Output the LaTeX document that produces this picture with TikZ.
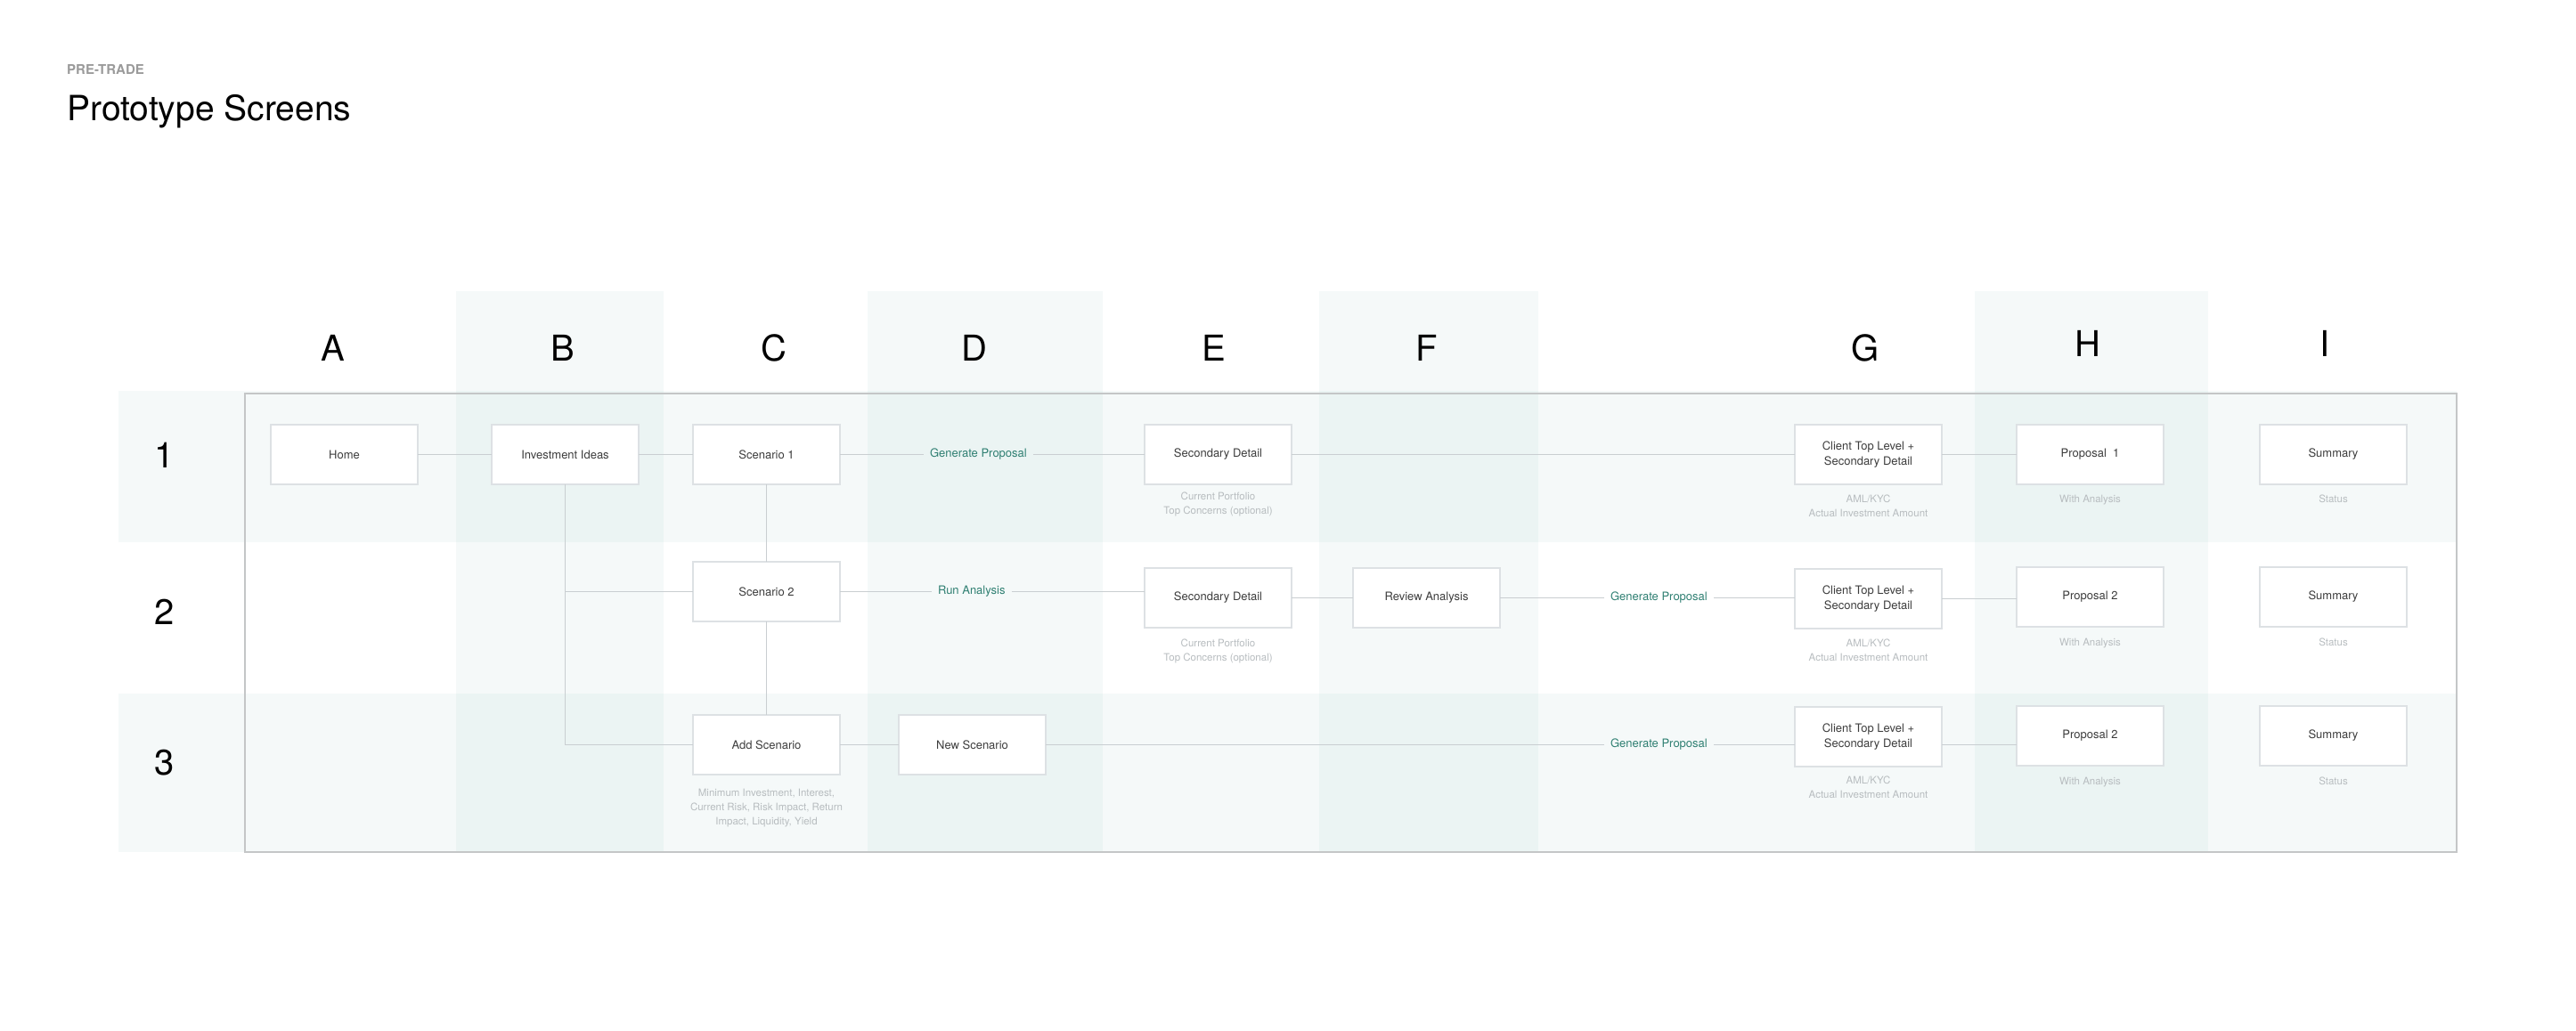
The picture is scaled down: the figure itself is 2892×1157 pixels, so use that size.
\documentclass[tikz,border=0pt]{standalone}
\usepackage{fontspec}
\setmainfont{TeX Gyre Heros}
\usepackage{tikz}
\usetikzlibrary{positioning}

\definecolor{tint}{RGB}{0,110,100}
\definecolor{boxedge}{HTML}{DDE1E4}
\definecolor{linkgray}{HTML}{C9CED1}
\definecolor{framegray}{HTML}{C4C6C7}
\definecolor{screentext}{HTML}{3D3D3D}
\definecolor{notegray}{HTML}{B7BCBF}
\definecolor{actionteal}{HTML}{2F7F72}
\definecolor{kickergray}{HTML}{9A9A9A}

\newcommand{\screenfont}{\fontsize{13}{17}\selectfont}
\newcommand{\notefont}{\fontsize{11.5}{16}\selectfont}
\newcommand{\headfont}{\fontsize{40}{48}\selectfont}
\newcommand{\kickerfont}{\fontsize{15}{18}\selectfont\bfseries}
\newcommand{\titlefont}{\fontsize{39}{46}\selectfont}

\tikzstyle{screen} = [rectangle, minimum width=165pt, minimum height=67pt, outer sep=0pt, text centered, align=center, draw=boxedge, line width=1.5pt, fill=white, text=screentext, font=\screenfont, path picture={\draw [boxedge, line width=3pt] (path picture bounding box.south west) -- (path picture bounding box.south east);}]
\tikzstyle{note} = [align=center, inner sep=0pt, text=notegray, font=\notefont]
\tikzstyle{action} = [inner xsep=7pt, inner ysep=2pt, outer sep=0pt, text=actionteal, font=\screenfont]
\tikzstyle{colhead} = [inner sep=0pt, text=black, font=\headfont]
\tikzstyle{band} = [fill=tint, fill opacity=0.04]
\tikzstyle{link} = [draw=linkgray, line width=1.5pt]
\tikzstyle{gridframe} = [draw=framegray, line width=2.2pt]

\begin{document}
\begin{tikzpicture}[x=1pt, y=-1pt]
\useasboundingbox (0,0) rectangle (2892,1157);

\fill [band] (133,439) rectangle (2758,609);
\fill [band] (133,779) rectangle (2758,957);
\foreach \xa/\xb in {512/745, 974/1238, 1481/1727, 2217/2479}
  \fill [band] (\xa,327) rectangle (\xb,957);
\draw [gridframe] (275,442) rectangle (2758,957);

\node (kicker) [anchor=base west, inner sep=0pt, text=kickergray, font=\kickerfont] at (75,83) {PRE-TRADE};
\node (title) [anchor=base west, inner sep=0pt, font=\titlefont] at (75,135) {Prototype Screens};

\foreach \x/\y/\l in {374/391/A, 632/391/B, 869/391/C, 1094/391/D, 1363/391/E, 1602/391/F, 2094/391/G, 2344/386/H, 2610/386/I}
  \node (col\l) [colhead] at (\x,\y) {\l};
\foreach \y/\r in {511/1, 687/2, 857/3}
  \node (row\r) [colhead] at (185,\y) {\r};

\node (home) [screen] at (386.5,510.5) {Home};
\node (ideas) [screen, right=83pt of home] {Investment Ideas};
\node (sc1) [screen, right=61pt of ideas] {Scenario 1};
\node (sd1) [screen, right=342pt of sc1] {Secondary Detail};
\node (client1) [screen, right=565pt of sd1] {Client Top Level +\\Secondary Detail};
\node (prop1) [screen, right=84pt of client1] {Proposal\ \ 1};
\node (sum1) [screen, right=108pt of prop1] {Summary};

\node (sc2) [screen, below=87pt of sc1] {Scenario 2};
\node (sd2) [screen, below=94pt of sd1] {Secondary Detail};
\node (review) [screen, right=69pt of sd2] {Review Analysis};
\node (client2) [screen, below=95pt of client1] {Client Top Level +\\Secondary Detail};
\node (prop2) [screen, below=93pt of prop1] {Proposal 2};
\node (sum2) [screen, below=93pt of sum1] {Summary};

\node (add) [screen, below=105pt of sc2] {Add Scenario};
\node (new) [screen, right=66pt of add] {New Scenario};
\node (client3) [screen, below=88pt of client2] {Client Top Level +\\Secondary Detail};
\node (prop3) [screen, below=89pt of prop2] {Proposal 2};
\node (sum3) [screen, below=89pt of sum2] {Summary};

\node (gp1) [action, right=94pt of sc1] {Generate Proposal};
\node (ra) [action, right=103pt of sc2] {Run Analysis};
\node (gp2) [action, right=117pt of review] {Generate Proposal};
\node (gp3) [action, right=627pt of new] {Generate Proposal};

\node (sd1note) [note, below=9pt of sd1] {Current Portfolio\\Top Concerns (optional)};
\node (sd2note) [note, below=13pt of sd2] {Current Portfolio\\Top Concerns (optional)};
\node (client1note) [note, below=12pt of client1] {AML/KYC\\Actual Investment Amount};
\node (client2note) [note, below=12pt of client2] {AML/KYC\\Actual Investment Amount};
\node (client3note) [note, below=11pt of client3] {AML/KYC\\Actual Investment Amount};
\node (prop1note) [note, below=12pt of prop1] {With Analysis};
\node (prop2note) [note, below=13pt of prop2] {With Analysis};
\node (prop3note) [note, below=13pt of prop3] {With Analysis};
\node (sum1note) [note, below=12pt of sum1] {Status};
\node (sum2note) [note, below=13pt of sum2] {Status};
\node (sum3note) [note, below=13pt of sum3] {Status};
\node (addnote) [note, below=16pt of add] {Minimum Investment, Interest,\\Current Risk, Risk Impact, Return\\Impact, Liquidity, Yield};

\draw [link] (home) -- (ideas);
\draw [link] (ideas) -- (sc1);
\draw [link] (sc1) -- (gp1) -- (sd1);
\draw [link] (sd1) -- (client1);
\draw [link] (client1) -- (prop1);
\draw [link] (sc1) -- (sc2);
\draw [link] (sc2) -- (add);
\draw [link] (ideas) |- (sc2);
\draw [link] (ideas) |- (add);
\draw [link] (sc2) -- (ra) -- (ra -| sd2.west);
\draw [link] (sd2) -- (review);
\draw [link] (review) -- (gp2) -- (gp2 -| client2.west);
\draw [link] (client2) -- (client2 -| prop2.west);
\draw [link] (add) -- (new);
\draw [link] (new) -- (gp3) -- (gp3 -| client3.west);
\draw [link] (client3.east |- gp3) -- (prop3.west |- gp3);

\end{tikzpicture}
\end{document}
